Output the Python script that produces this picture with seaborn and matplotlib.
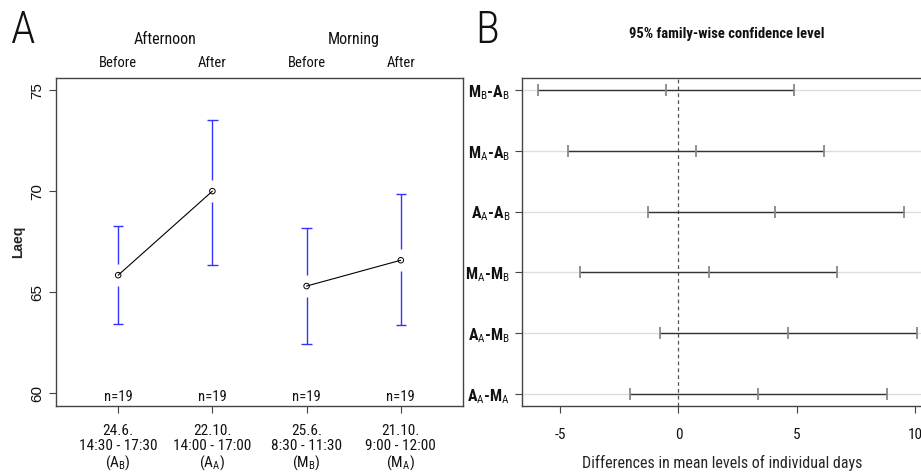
import seaborn as sns
import numpy as np
import pandas as pd
import matplotlib
matplotlib.use('Agg')
import matplotlib.pyplot as plt

# panel A data: means and 95% CI of Laeq per measuring day
days = ['24.6.\n14:30 - 17:30\n($\\mathrm{A}_\\mathrm{B}$)',
        '22.10.\n14:00 - 17:00\n($\\mathrm{A}_\\mathrm{A}$)',
        '25.6.\n8:30 - 11:30\n($\\mathrm{M}_\\mathrm{B}$)',
        '21.10.\n9:00 - 12:00\n($\\mathrm{M}_\\mathrm{A}$)']
period = ['Afternoon', 'Afternoon', 'Morning', 'Morning']
phase = ['Before', 'After', 'Before', 'After']
laeq_mean = [65.84, 70.0, 65.3, 66.58]
laeq_lo = [63.4, 66.34, 62.43, 63.37]
laeq_hi = [68.27, 73.5, 68.2, 69.85]
n_obs = [19, 19, 19, 19]

# panel B data: Tukey HSD differences
pairs = ['$\\mathbf{M}_\\mathrm{B}$-$\\mathbf{A}_\\mathrm{B}$',
         '$\\mathbf{M}_\\mathrm{A}$-$\\mathbf{A}_\\mathrm{B}$',
         '$\\mathbf{A}_\\mathrm{A}$-$\\mathbf{A}_\\mathrm{B}$',
         '$\\mathbf{M}_\\mathrm{A}$-$\\mathbf{M}_\\mathrm{B}$',
         '$\\mathbf{A}_\\mathrm{A}$-$\\mathbf{M}_\\mathrm{B}$',
         '$\\mathbf{A}_\\mathrm{A}$-$\\mathbf{M}_\\mathrm{A}$']
diff = [-0.51, 0.75, 4.10, 1.27, 4.65, 3.36]
diff_lwr = [-5.94, -4.67, -1.30, -4.15, -0.80, -2.03]
diff_upr = [4.90, 6.14, 9.53, 6.68, 10.06, 8.80]

sns.set_style('white')
fam = ['Roboto Condensed', 'Liberation Sans Narrow', 'Roboto', 'DejaVu Sans']
plt.rcParams['font.family'] = fam
plt.rcParams['mathtext.fontset'] = 'custom'
plt.rcParams['mathtext.rm'] = 'Roboto Condensed'
plt.rcParams['mathtext.bf'] = 'Roboto Condensed:bold'
plt.rcParams['mathtext.it'] = 'Roboto Condensed:italic'
plt.rcParams['text.color'] = '#111111'
plt.rcParams['xtick.color'] = '#111111'
plt.rcParams['ytick.color'] = '#111111'

fig = plt.figure(figsize=(9.21, 4.76), dpi=100)
axA = fig.add_axes([0.0608, 0.147, 0.4419, 0.689])
axB = fig.add_axes([0.5668, 0.147, 0.4345, 0.689])

frame = '#444444'

# ---- panel A ----
dfA = pd.DataFrame({'x': range(4), 'mean': laeq_mean, 'period': period})
sns.lineplot(data=dfA, x='x', y='mean', units='period', estimator=None,
             color='black', lw=0.8, ax=axA)
sns.scatterplot(data=dfA, x='x', y='mean', marker='o', s=16,
                facecolor='none', edgecolor='black', linewidth=0.7, ax=axA, zorder=3)
gap = 0.55
xs = np.arange(4)
axA.vlines(xs, laeq_lo, np.array(laeq_mean) - gap, color='#3333ff', lw=1)
axA.vlines(xs, np.array(laeq_mean) + gap, laeq_hi, color='#3333ff', lw=1)
axA.hlines(laeq_lo, xs - 0.055, xs + 0.055, color='#3333ff', lw=1)
axA.hlines(laeq_hi, xs - 0.055, xs + 0.055, color='#3333ff', lw=1)
for i in range(4):
    axA.text(xs[i], 59.47, 'n=%d' % n_obs[i], ha='center', va='bottom', fontsize=10.5)
    axA.text(xs[i], 76.35, phase[i], ha='center', va='center', fontsize=10.5)
axA.text(0.5, 77.5, 'Afternoon', ha='center', va='center', fontsize=11.5)
axA.text(2.5, 77.5, 'Morning', ha='center', va='center', fontsize=11.5)

axA.set_xlim(-0.66, 3.66)
axA.set_ylim(59.36, 75.6)
axA.set_xticks(xs)
axA.set_xticklabels(days, fontsize=11, linespacing=1.05)
axA.set_yticks([60, 65, 70, 75])
axA.set_yticklabels(['60', '65', '70', '75'], rotation=90, va='center',
                    fontsize=11, family='Liberation Sans')
axA.set_xlabel('')
axA.set_ylabel('Laeq', fontweight='bold', fontsize=10, family='Liberation Sans')
axA.tick_params(axis='both', direction='out', length=5, width=0.8,
                color=frame, left=True, bottom=True)
axA.tick_params(axis='x', pad=8)
for s in axA.spines.values():
    s.set_color(frame)
    s.set_linewidth(1)

# ---- panel B ----
yrow = np.arange(len(pairs))
dfB = pd.DataFrame({'pair': pairs, 'diff': diff, 'lwr': diff_lwr, 'upr': diff_upr})
for yy in yrow:
    axB.axhline(yy, color='#dddddd', lw=1, zorder=0)
axB.axvline(0, color='#555555', lw=0.9, ls=(0, (3, 2.5)), zorder=1)
axB.hlines(yrow, dfB['lwr'], dfB['upr'], color='#333333', lw=1, zorder=2)
for col in ['lwr', 'diff', 'upr']:
    sns.scatterplot(x=dfB[col], y=yrow, marker='|', s=75, color='#888888',
                    linewidth=1.3, ax=axB, zorder=3)
axB.set_xlim(-6.61, 10.3)
axB.set_ylim(5.2, -0.2)
axB.set_yticks(yrow)
axB.set_yticklabels(pairs, fontsize=11.5, fontweight='bold')
axB.set_xticks([-5, 0, 5, 10])
axB.set_xticklabels(['-5', '0', '5', '10'], fontsize=11)
axB.set_xlabel('Differences in mean levels of individual days', fontsize=11.5, labelpad=9)
axB.set_ylabel('')
axB.tick_params(axis='both', direction='out', length=5, width=0.8,
                color=frame, left=True, bottom=True)
axB.tick_params(axis='x', pad=11)
for s in axB.spines.values():
    s.set_color(frame)
    s.set_linewidth(1)

fig.text(0.024, 0.935, 'A', fontsize=32, fontweight='light', ha='center', va='center')
fig.text(0.529, 0.935, 'B', fontsize=32, fontweight='light', ha='center', va='center')
fig.text(0.789, 0.928, '95% family-wise confidence level', fontsize=10.5,
         fontweight='bold', ha='center', va='center')

fig.savefig('out.png', dpi=100)
